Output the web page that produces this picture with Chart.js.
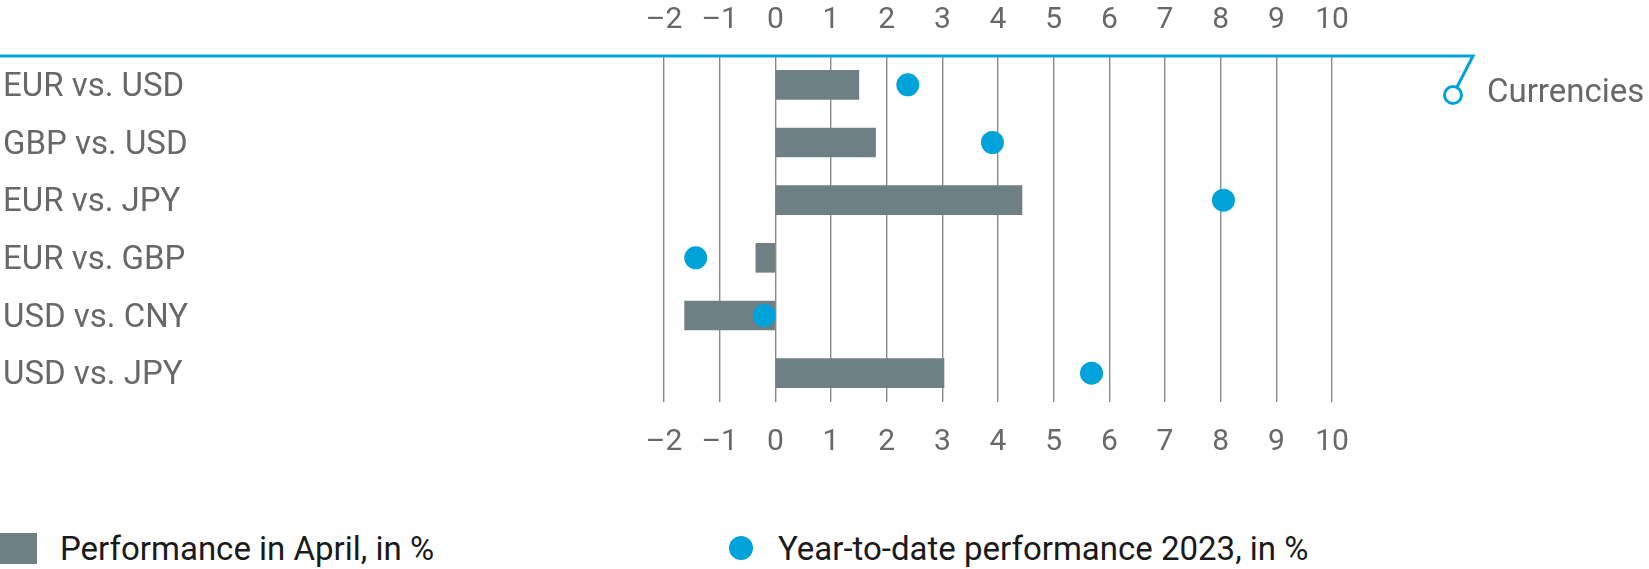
<!DOCTYPE html>
<html>
<head>
<meta charset="utf-8">
<script src="https://cdn.jsdelivr.net/npm/chart.js@4"></script>
<style>
  body { margin: 0; background: #fff; font-family: Roboto, sans-serif; }
  #wrap { position: relative; width: 1649px; height: 569px; }
  #chartBox { position: absolute; left: 0; top: 0; width: 1649px; height: 460px; }
  .legend { position: absolute; top: 528px; height: 40px; font-size: 33px; color: #1a1a1a; display: flex; align-items: center; }
  .legend .sq { width: 37px; height: 31px; background: #6e8083; margin-right: 23px; }
  .legend .dot { width: 24px; height: 24px; border-radius: 50%; background: #00a3d9; margin-right: 25px; }
</style>
</head>
<body>
<div id="wrap">
  <div id="chartBox"><canvas id="myChart"></canvas></div>
  <div class="legend" style="left:0px"><span class="sq"></span>Performance in April, in %</div>
  <div class="legend" style="left:729px"><span class="dot"></span>Year-to-date performance 2023, in %</div>
</div>
<script>
var categories = ['EUR vs. USD', 'GBP vs. USD', 'EUR vs. JPY', 'EUR vs. GBP', 'USD vs. CNY', 'USD vs. JPY'];
var aprilPerf = [1.5, 1.8, 4.43, -0.35, -1.63, 3.03];
var ytdPerf = [2.38, 3.9, 8.05, -1.43, -0.2, 5.68];
var tickMin = -2;
var tickMax = 10;

var grey = '#6e8083';
var blue = '#00a3d9';
var textGrey = '#686868';

function fmtTick(v) {
    return v < 0 ? '\u2013' + Math.abs(v) : '' + v;
}

// blue header line with the "Currencies" marker
var headerLine = {
    id: 'headerLine',
    afterDraw: function (chart) {
        var ctx = chart.ctx;
        var top = chart.chartArea.top;
        ctx.save();
        ctx.strokeStyle = blue;
        ctx.lineWidth = 3;
        ctx.beginPath();
        ctx.moveTo(0, top);
        ctx.lineTo(1473, top);
        ctx.lineTo(1457, 87);
        ctx.stroke();
        ctx.beginPath();
        ctx.arc(1453, 95, 8.5, 0, Math.PI * 2);
        ctx.fillStyle = '#fff';
        ctx.fill();
        ctx.stroke();
        ctx.fillStyle = textGrey;
        ctx.font = '33px Roboto';
        ctx.textBaseline = 'middle';
        ctx.fillText('Currencies', 1487, 94);
        ctx.restore();
    }
};

var c = document.getElementById("myChart");
var ctx = c.getContext("2d");

var chart = new Chart(ctx, {
    type: 'bar',
    data: {
        labels: categories,
        datasets: [{
            type: 'line',
            label: 'Year-to-date performance 2023, in %',
            data: ytdPerf,
            showLine: false,
            pointRadius: 11.5,
            pointHoverRadius: 11.5,
            pointBackgroundColor: blue,
            pointBorderWidth: 0,
            borderColor: blue,
            order: 0
        }, {
            label: 'Performance in April, in %',
            data: aprilPerf,
            backgroundColor: grey,
            barThickness: 29,
            order: 1
        }]
    },
    options: {
        indexAxis: 'y',
        responsive: true,
        maintainAspectRatio: false,
        animation: false,
        layout: { padding: { left: 3, right: 317, top: 2, bottom: 2 } },
        plugins: {
            legend: { display: false },
            tooltip: { enabled: false }
        },
        scales: {
            x: {
                position: 'bottom',
                min: tickMin,
                max: tickMax,
                border: { display: false },
                grid: { color: '#8a8a8a', lineWidth: 1.4, drawTicks: false },
                afterFit: function (axis) { axis.height = 56; },
                ticks: {
                    stepSize: 1,
                    padding: 22,
                    color: textGrey,
                    font: { family: 'Roboto', size: 30 },
                    callback: fmtTick
                }
            },
            x2: {
                position: 'top',
                min: tickMin,
                max: tickMax,
                border: { display: false },
                grid: { display: false, drawTicks: false },
                afterFit: function (axis) { axis.height = 54; },
                ticks: {
                    stepSize: 1,
                    padding: 18,
                    color: textGrey,
                    font: { family: 'Roboto', size: 30 },
                    callback: fmtTick
                }
            },
            y: {
                border: { display: false },
                grid: { display: false, drawTicks: false },
                afterFit: function (axis) { axis.width = 661; },
                ticks: {
                    crossAlign: 'far',
                    padding: 0,
                    labelOffset: 3,
                    color: textGrey,
                    font: { family: 'Roboto', size: 33 }
                }
            }
        }
    },
    plugins: [headerLine]
});
</script>
</body>
</html>
